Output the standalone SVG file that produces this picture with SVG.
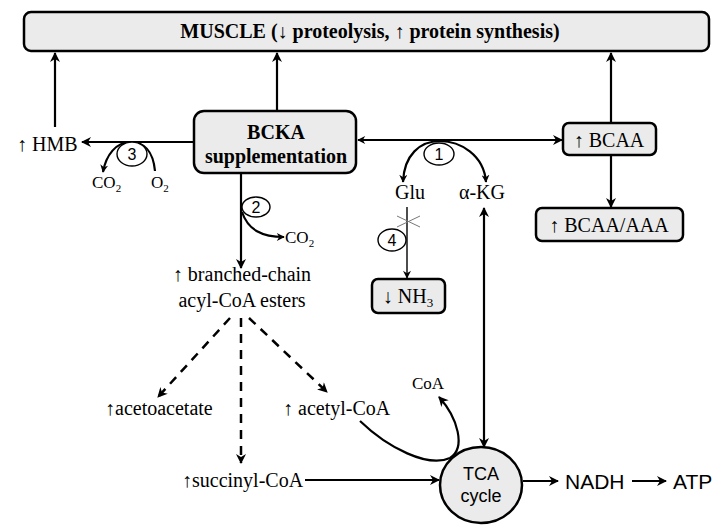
<svg xmlns="http://www.w3.org/2000/svg" width="721" height="531" viewBox="0 0 721 531">
<style>
.box{fill:#ebebeb;stroke:#000;stroke-width:2.5}
.ln{fill:none;stroke:#000;stroke-width:2.2}
.thin{fill:none;stroke:#000;stroke-width:1.4}
.dash{fill:none;stroke:#000;stroke-width:2.5;stroke-dasharray:9 7}
.num{fill:#fff;stroke:#000;stroke-width:1.4}
.t{font-family:"Liberation Serif","DejaVu Serif",serif;font-size:20px;fill:#000}
.b{font-family:"Liberation Serif","DejaVu Serif",serif;font-size:20px;font-weight:bold;fill:#000}
.s{font-family:"Liberation Sans","DejaVu Sans",sans-serif;fill:#000}
.sm{font-family:"Liberation Serif","DejaVu Serif",serif;font-size:17px;fill:#000}
</style>
<defs>
<marker id="ah" viewBox="0 0 10 10" refX="9" refY="5" markerWidth="11" markerHeight="10" markerUnits="userSpaceOnUse" orient="auto-start-reverse">
<path d="M0,0 L10,5 L0,10 L3,5 z" fill="#000"/>
</marker>
<marker id="ahs" viewBox="0 0 10 10" refX="9" refY="5" markerWidth="9" markerHeight="8" markerUnits="userSpaceOnUse" orient="auto-start-reverse">
<path d="M0,0 L10,5 L0,10 L3,5 z" fill="#000"/>
</marker>
</defs>

<g id="connectors">
<line class="ln" x1="55" y1="127" x2="55" y2="53" marker-end="url(#ah)"/>
<line class="ln" x1="277" y1="111" x2="277" y2="53" marker-end="url(#ah)"/>
<line class="ln" x1="611" y1="123" x2="611" y2="53" marker-end="url(#ah)"/>
<line class="ln" x1="194" y1="142" x2="82" y2="142" marker-end="url(#ah)"/>
<path class="ln" d="M155,171 C153,150 143,142 131,142 C116,142 106,155 103,172" marker-end="url(#ahs)"/>
<line class="ln" x1="241" y1="173" x2="241" y2="268" marker-end="url(#ah)"/>
<path class="ln" d="M242,212 C248,230 262,237 284,237" marker-end="url(#ahs)"/>
<line class="dash" x1="230" y1="318" x2="158" y2="397" marker-end="url(#ah)"/>
<line class="dash" x1="241" y1="318" x2="241" y2="463" marker-end="url(#ah)"/>
<line class="dash" x1="249" y1="318" x2="327" y2="392" marker-end="url(#ah)"/>
<line class="ln" x1="305" y1="480" x2="439" y2="480" marker-end="url(#ah)"/>
<path class="ln" d="M360,421 C388,448 428,468 450,458 C466,448 458,418 439,397" marker-end="url(#ah)"/>
<line class="ln" x1="484" y1="208" x2="484" y2="447" marker-start="url(#ah)" marker-end="url(#ah)"/>
<line class="ln" x1="523" y1="481" x2="558" y2="481" marker-end="url(#ah)"/>
<line class="ln" x1="632" y1="481" x2="666" y2="481" marker-end="url(#ah)"/>
<line class="ln" x1="358" y1="140" x2="562" y2="140" marker-start="url(#ahs)" marker-end="url(#ah)"/>
<path class="ln" d="M440,141 C420,141 404,155 403,182" marker-end="url(#ahs)"/>
<path class="ln" d="M440,141 C460,141 484,155 486,182" marker-end="url(#ahs)"/>
<line class="thin" x1="407" y1="207" x2="407" y2="278" marker-end="url(#ahs)"/>
<line x1="397" y1="216" x2="420" y2="227" stroke="#777" stroke-width="1"/>
<line x1="397" y1="227" x2="420" y2="216" stroke="#777" stroke-width="1"/>
<line class="ln" x1="611" y1="155" x2="611" y2="207" marker-end="url(#ah)"/>
</g>

<g id="muscle">
<rect class="box" x="24" y="12" width="685" height="39" rx="7"/>
<text class="b" x="370" y="38" font-size="21" text-anchor="middle">MUSCLE  (↓ proteolysis, ↑ protein synthesis)</text>
</g>

<g id="bcka">
<rect class="box" x="194" y="111" width="162" height="62" rx="10"/>
<text class="b" x="276" y="139" text-anchor="middle">BCKA</text>
<text class="b" x="276" y="163" text-anchor="middle">supplementation</text>
</g>

<g id="hmb">
<text class="t" x="17" y="151">↑ HMB</text>
</g>

<g id="step3">
<ellipse class="num" cx="132" cy="154" rx="15" ry="12"/>
<text class="s" x="132" y="160" font-size="16" text-anchor="middle">3</text>
<text class="sm" x="92" y="188">CO<tspan font-size="11" dy="4">2</tspan></text>
<text class="sm" x="151" y="188">O<tspan font-size="11" dy="4">2</tspan></text>
</g>

<g id="step2">
<ellipse class="num" cx="256" cy="207" rx="14" ry="10"/>
<text class="s" x="256" y="213" font-size="16" text-anchor="middle">2</text>
<text class="sm" x="285" y="243">CO<tspan font-size="11" dy="4">2</tspan></text>
</g>

<g id="esters">
<text class="t" x="242" y="281" text-anchor="middle">↑ branched-chain</text>
<text class="t" x="242" y="307" text-anchor="middle">acyl-CoA esters</text>
</g>

<g id="acetoacetate"><text class="t" x="105" y="415">↑acetoacetate</text></g>
<g id="acetylcoa"><text class="t" x="283" y="415">↑ acetyl-CoA</text></g>
<g id="succinylcoa"><text class="t" x="182" y="487">↑succinyl-CoA</text></g>
<g id="coa"><text class="sm" x="412" y="389">CoA</text></g>

<g id="tca">
<ellipse class="box" cx="481" cy="485" rx="41" ry="38"/>
<text class="s" x="481" y="480" font-size="18" text-anchor="middle">TCA</text>
<text class="s" x="481" y="502" font-size="18" text-anchor="middle">cycle</text>
</g>

<g id="nadh"><text class="s" x="565" y="489" font-size="21">NADH</text></g>
<g id="atp"><text class="s" x="673" y="489" font-size="21">ATP</text></g>

<g id="step1">
<ellipse class="num" cx="439" cy="154" rx="15" ry="11"/>
<text class="s" x="439" y="160" font-size="16" text-anchor="middle">1</text>
</g>
<g id="glu"><text class="t" x="410" y="199" text-anchor="middle">Glu</text></g>
<g id="akg"><text class="t" x="482" y="199" text-anchor="middle">α-KG</text></g>

<g id="step4">
<ellipse class="num" cx="392" cy="240" rx="14" ry="11"/>
<text class="s" x="392" y="246" font-size="16" text-anchor="middle">4</text>
</g>

<g id="nh3">
<rect class="box" x="372" y="279" width="73" height="34" rx="6"/>
<text class="t" x="408" y="303" text-anchor="middle">↓ NH<tspan font-size="13" dy="4">3</tspan></text>
</g>

<g id="bcaa">
<rect class="box" x="563" y="123" width="93" height="32" rx="6"/>
<text class="t" x="609" y="147" text-anchor="middle">↑ BCAA</text>
</g>

<g id="ratio">
<rect class="box" x="536" y="208" width="147" height="33" rx="6"/>
<text class="t" x="609" y="232" text-anchor="middle">↑ BCAA/AAA</text>
</g>
</svg>
